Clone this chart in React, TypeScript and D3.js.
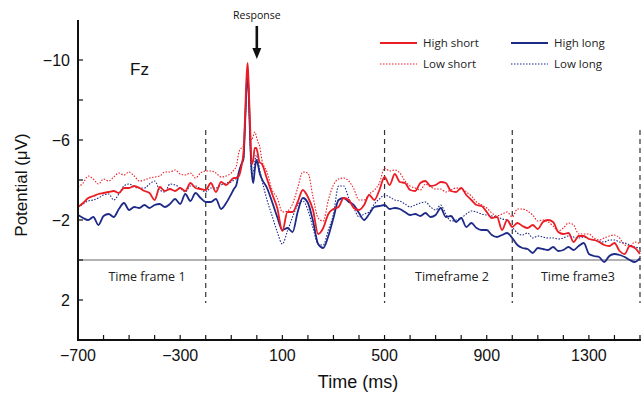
import React from "react";
import * as d3 from "d3";

// time grid (ms): 20 ms steps, finer around the response peak
const times = [
  ...d3.range(-700, -99, 20),
  -90, -80, -70, -60, -52, -46, -40, -36, -32, -26, -20, -14, -8, -2, 4, 10,
  ...d3.range(20, 1501, 20),
];

// potentials in µV (negative up)
const highShort = [
  -2.65, -2.85, -3.1, -3.2, -3.3, -3.35, -3.4, -3.45, -3.35, -3.6,
  -3.6, -3.7, -3.6, -3.45, -3.35, -3.0, -3.65, -3.45, -3.55, -3.45,
  -3.6, -3.45, -3.85, -3.6, -3.55, -3.5, -3.85, -3.4, -3.9, -3.75,
  -4.0,
  -4.1, -4.1, -4.2, -4.7, -5.4, -7.2, -9.2, -9.85, -8.8, -6.6, -4.8, -5.0, -5.6, -5.6, -5.3, -4.9,
  -4.8, -4.05, -3.3, -2.6, -1.45, -2.4, -2.4, -2.9, -3.5, -3.15,
  -2.5, -1.3, -1.6, -2.3, -2.55, -2.65, -3.1, -3.0, -2.6, -2.5,
  -2.75, -3.25, -3.0, -3.5, -4.15, -3.75, -4.3, -3.9, -3.85, -3.5,
  -3.45, -3.85, -3.95, -3.7, -3.75, -3.9, -3.85, -3.45, -3.4, -3.6,
  -3.25, -3.0, -2.75, -2.7, -2.4, -2.1, -2.15, -1.5, -2.0, -1.65,
  -1.85, -1.7, -1.6, -1.75, -1.55, -1.9, -2.0, -1.9, -1.4, -1.3,
  -1.35, -0.9, -1.2, -1.2, -1.05, -1.0, -0.9, -0.75, -0.7, -0.85,
  -0.45, -0.3, -0.7, -0.6, -0.3,
];

const lowShort = [
  -3.65, -3.85, -4.2, -4.05, -3.8, -4.05, -3.95, -4.15, -4.35, -4.25,
  -4.4, -4.2, -3.95, -4.0, -4.1, -4.15, -4.2, -4.4, -4.4, -4.5,
  -4.3, -4.25, -4.35, -4.1, -4.35, -4.45, -4.45, -4.35, -4.15, -4.2,
  -4.35,
  -4.5, -4.7, -5.4, -5.6, -5.7, -7.0, -8.9, -9.6, -8.6, -6.4, -6.0, -6.2, -6.4, -6.2, -5.9, -5.75,
  -5.0, -4.4, -3.5, -3.1, -2.4, -2.45, -2.8, -3.6, -4.4, -4.35,
  -3.15, -2.1, -1.95, -3.0, -3.75, -4.05, -4.1, -3.95, -3.55, -3.0,
  -3.0, -3.3, -3.5, -3.85, -4.6, -4.45, -4.5, -4.35, -3.95, -3.7,
  -3.6, -3.5, -3.8, -3.65, -3.55, -3.55, -3.4, -3.5, -3.6, -3.55,
  -3.4, -3.2, -2.9, -2.75, -2.6, -2.35, -2.2, -2.3, -2.4, -2.15,
  -2.55, -2.55, -2.45, -2.25, -1.95, -2.0, -1.9, -1.7, -1.45, -1.6,
  -1.85, -1.75, -1.3, -1.3, -1.3, -1.1, -1.0, -1.1, -1.2, -1.25,
  -1.1, -0.75, -0.7, -0.9, -0.8,
];

const highLong = [
  -2.25, -2.1, -2.0, -2.15, -1.75, -2.2, -2.3, -2.15, -2.55, -2.85,
  -2.5, -2.65, -2.6, -2.75, -2.6, -2.75, -2.8, -2.65, -2.8, -3.05,
  -2.8, -3.3, -2.95, -3.35, -3.1, -2.9, -2.9, -3.05, -2.55, -2.85,
  -3.3,
  -3.55, -3.75, -4.4, -4.8, -5.1, -6.8, -8.7, -9.35, -8.4, -6.0, -4.4, -3.85, -4.5, -5.0, -4.8, -4.4,
  -4.05, -3.6, -2.9, -2.15, -1.5, -1.6, -1.4, -2.4, -3.1, -2.85,
  -1.95, -0.8, -0.6, -1.2, -2.1, -3.0, -3.1, -2.9, -2.75, -2.35,
  -2.0, -2.3, -2.65, -2.7, -2.75, -2.55, -2.6, -2.55, -2.4, -2.25,
  -2.3, -2.2, -2.35, -2.15, -2.25, -2.6, -2.15, -2.2, -1.9, -2.1,
  -1.65, -1.85, -1.6, -1.5, -1.5, -1.25, -1.15, -1.25, -1.35, -1.1,
  -0.75, -0.6, -0.55, -0.35, -0.6, -0.55, -0.5, -0.65, -0.45, -0.5,
  -0.65, -0.5, -0.7, -0.85, -0.3, -0.2, -0.15, 0.1, -0.2, -0.3,
  -0.25, -0.15, 0.0, 0.1, -0.1,
];

const lowLong = [
  -2.65, -2.8, -2.95, -3.0, -3.1, -3.25, -3.3, -3.0, -3.3, -3.7,
  -3.8, -3.65, -3.6, -3.6, -3.8, -3.95, -3.5, -3.4, -3.8, -3.75,
  -3.6, -3.4, -3.7, -3.7, -3.55, -3.4, -3.6, -3.6, -3.75, -3.85,
  -3.9,
  -4.0, -4.1, -4.4, -4.8, -5.0, -6.6, -8.5, -9.2, -8.2, -5.8, -4.3, -4.4, -4.9, -5.25, -5.0, -4.6,
  -4.0, -3.0, -2.2, -1.4, -0.8, -1.45, -2.15, -2.75, -2.95, -2.5,
  -1.6, -0.8, -0.75, -1.5, -2.3, -3.7, -3.7, -3.1, -2.6, -2.15,
  -2.3, -2.4, -2.8, -3.05, -3.25, -3.15, -3.0, -2.95, -2.8, -2.65,
  -2.75, -2.85, -2.9, -2.65, -2.5, -2.75, -2.3, -1.95, -2.0, -2.1,
  -2.3, -2.45, -2.4, -2.3, -2.25, -2.2, -2.15, -2.05, -2.0, -1.65,
  -1.35, -1.25, -1.35, -1.1, -1.2, -1.15, -1.1, -1.1, -1.05, -1.1,
  -1.2, -1.15, -1.1, -1.15, -1.05, -1.0, -0.95, -0.9, -1.0, -1.0,
  -0.9, -0.85, -0.75, -0.65, -0.6,
];

const xTickLabels = [-700, -300, 100, 500, 900, 1300];
const yTickLabels = [-10, -6, -2, 2];
const frameBounds = [-200, 500, 1000, 1500];
const frameLabels = [
  { text: "Time frame 1", t: -430 },
  { text: "Timeframe 2", t: 764 },
  { text: "Time frame3", t: 1257 },
];

const RED = "#ec1c24";
const BLUE = "#1d2a87";

const seriesList = [
  { name: "High short", values: highShort, color: RED, dotted: false },
  { name: "Low short", values: lowShort, color: RED, dotted: true },
  { name: "High long", values: highLong, color: BLUE, dotted: false },
  { name: "Low long", values: lowLong, color: BLUE, dotted: true },
];

const W = 641;
const H = 394;
const left = 78;
const right = 640;
const top = 20;
const bottom = 340;

export default function App() {
  const x = d3.scaleLinear().domain([-700, 1500]).range([left, right]);
  const y = d3.scaleLinear().domain([-12, 4]).range([top, bottom]);

  const line = (vals: number[]) =>
    d3
      .line<number>()
      .x((_, i) => x(times[i]))
      .y((d) => y(d))
      .curve(d3.curveMonotoneX)(vals) || "";

  const tickFont = "'Liberation Sans', Arial, sans-serif";
  const labelFont = "'Open Sans', 'Noto Sans', sans-serif";

  // draw dotted lines under the solid ones
  const order = [1, 3, 2, 0];

  return (
    <svg
      width={W}
      height={H}
      style={{ position: "absolute", left: 0, top: 0, background: "#fff" }}
    >
      {/* zero line */}
      <line x1={left} x2={right} y1={y(0)} y2={y(0)} stroke="#666" strokeWidth={1.2} />

      {/* time frame boundaries */}
      {frameBounds.map((t) => (
        <line
          key={t}
          x1={x(t)}
          x2={x(t)}
          y1={y(-6.5)}
          y2={y(2.15)}
          stroke="#333"
          strokeWidth={1.2}
          strokeDasharray="5,4"
        />
      ))}

      {/* series */}
      {order.map((k) => {
        const s = seriesList[k];
        return (
          <path
            key={s.name}
            d={line(s.values)}
            fill="none"
            stroke={s.color}
            strokeWidth={s.dotted ? 1.1 : 1.8}
            strokeDasharray={s.dotted ? "1.5,1.5" : undefined}
            strokeLinejoin="round"
          />
        );
      })}

      {/* axes */}
      <line x1={left} x2={left} y1={top} y2={bottom + 1} stroke="#111" strokeWidth={2} />
      <line x1={left - 1} x2={right + 1} y1={bottom} y2={bottom} stroke="#111" strokeWidth={2} />
      {d3.range(-700, 1501, 100).map((t) => (
        <line key={t} x1={x(t)} x2={x(t)} y1={bottom} y2={bottom - 5} stroke="#111" strokeWidth={1.2} />
      ))}
      {d3.range(-10, 3, 2).map((v) => (
        <line key={v} x1={left} x2={left + 5} y1={y(v)} y2={y(v)} stroke="#111" strokeWidth={1.2} />
      ))}
      {xTickLabels.map((t) => (
        <text
          key={t}
          x={x(t)}
          y={361}
          textAnchor="middle"
          fontFamily={tickFont}
          fontSize={16}
          fill="#111"
        >
          {t < 0 ? "\u2212" + Math.abs(t) : t}
        </text>
      ))}
      {yTickLabels.map((v) => (
        <text
          key={v}
          x={70}
          y={y(v) + 6}
          textAnchor="end"
          fontFamily={tickFont}
          fontSize={16}
          fill="#111"
        >
          {v < 0 ? "\u2212" + Math.abs(v) : v}
        </text>
      ))}

      <text
        x={358}
        y={388}
        textAnchor="middle"
        fontFamily={tickFont}
        fontSize={18}
        fill="#111"
      >
        Time (ms)
      </text>
      <text
        transform={`translate(27,${(top + bottom) / 2 + 5}) rotate(-90)`}
        textAnchor="middle"
        fontFamily={tickFont}
        fontSize={17}
        fill="#111"
      >
        Potential (μV)
      </text>

      <text x={130} y={75} fontFamily={tickFont} fontSize={17} fill="#111">
        Fz
      </text>

      {/* response marker */}
      <text x={x(0)} y={19} textAnchor="middle" fontFamily={labelFont} fontSize={10.5} fill="#111">
        Response
      </text>
      <line x1={x(0)} x2={x(0)} y1={26} y2={50} stroke="#111" strokeWidth={2.6} />
      <path
        d={`M${x(0) - 4.5},48 L${x(0) + 4.5},48 L${x(0)},59 Z`}
        fill="#111"
      />

      {/* time frame labels */}
      {frameLabels.map((f) => (
        <text
          key={f.text}
          x={x(f.t)}
          y={281}
          textAnchor="middle"
          fontFamily={labelFont}
          fontSize={12.5}
          fill="#222"
        >
          {f.text}
        </text>
      ))}

      {/* legend */}
      {seriesList.map((s, i) => {
        const lx = i < 2 ? 380 : 511;
        const ly = i % 2 === 0 ? 43 : 64;
        return (
          <g key={s.name}>
            <line
              x1={lx}
              x2={lx + 37}
              y1={ly}
              y2={ly}
              stroke={s.color}
              strokeWidth={s.dotted ? 1.1 : 1.8}
              strokeDasharray={s.dotted ? "1.5,1.5" : undefined}
            />
            <text
              x={lx + 43}
              y={ly + 4}
              fontFamily={labelFont}
              fontSize={11.5}
              fill="#222"
            >
              {s.name}
            </text>
          </g>
        );
      })}
    </svg>
  );
}
